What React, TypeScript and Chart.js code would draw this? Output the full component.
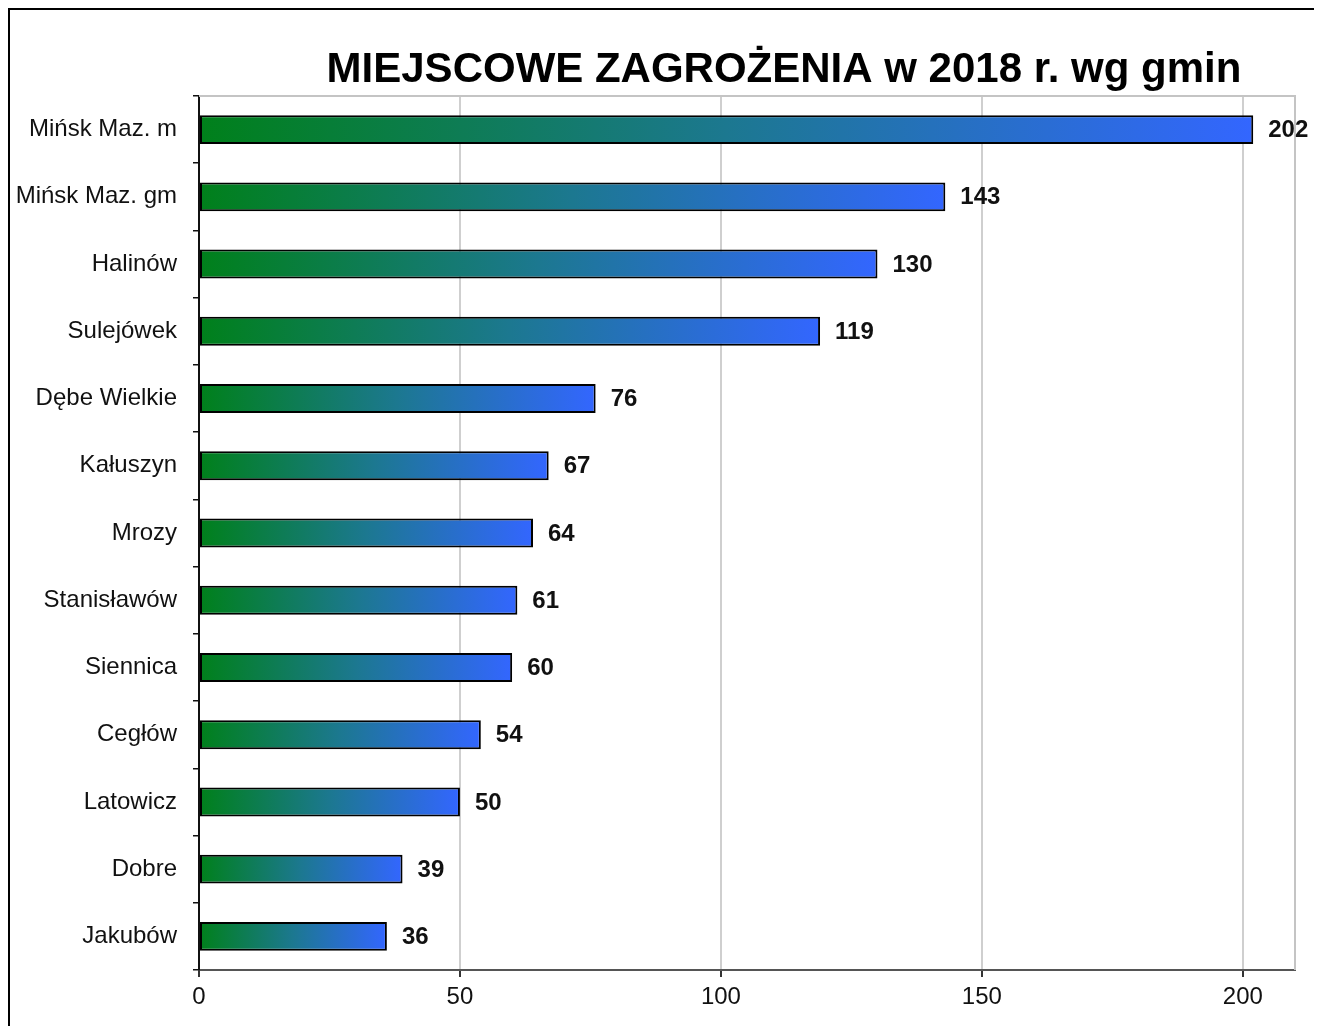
import React, { useEffect, useRef } from "react";
import { Chart, registerables } from "chart.js";

Chart.register(...registerables);

const TITLE = "MIEJSCOWE ZAGROŻENIA w 2018 r. wg gmin";
const categories = [
  "Mińsk Maz. m",
  "Mińsk Maz. gm",
  "Halinów",
  "Sulejówek",
  "Dębe Wielkie",
  "Kałuszyn",
  "Mrozy",
  "Stanisławów",
  "Siennica",
  "Cegłów",
  "Latowicz",
  "Dobre",
  "Jakubów",
];
const values = [202, 143, 130, 119, 76, 67, 64, 61, 60, 54, 50, 39, 36];
const xTicks = [0, 50, 100, 150, 200];
const xMin = 0;
const xMax = 210;

const FONT = "'Liberation Sans', Arial, sans-serif";

const framePlugin = {
  id: "framePlugin",
  beforeDraw(chart: any) {
    const { ctx } = chart;
    ctx.save();
    ctx.fillStyle = "#ffffff";
    ctx.fillRect(0, 0, chart.width, chart.height);
    ctx.restore();
  },
  afterDraw(chart: any) {
    const { ctx, chartArea } = chart;
    ctx.save();
    // outer frame (left and top)
    ctx.strokeStyle = "#000000";
    ctx.lineWidth = 2;
    ctx.beginPath();
    ctx.moveTo(1, chart.height);
    ctx.lineTo(1, 1);
    ctx.lineTo(chart.width, 1);
    ctx.stroke();
    // plot top and right border
    ctx.strokeStyle = "#c4c4c4";
    ctx.lineWidth = 2;
    ctx.beginPath();
    ctx.moveTo(chartArea.left, chartArea.top);
    ctx.lineTo(chartArea.right, chartArea.top);
    ctx.lineTo(chartArea.right, chartArea.bottom);
    ctx.stroke();
    // title
    ctx.fillStyle = "#000000";
    ctx.font = `bold 42px ${FONT}`;
    ctx.textAlign = "center";
    ctx.textBaseline = "alphabetic";
    ctx.fillText(TITLE, chartArea.left + (chartArea.right - chartArea.left) / 2 + 37, 74);
    // value labels
    const meta = chart.getDatasetMeta(0);
    ctx.font = `bold 24px ${FONT}`;
    ctx.textAlign = "left";
    ctx.textBaseline = "middle";
    ctx.fillStyle = "#111111";
    meta.data.forEach((el: any, i: number) => {
      ctx.fillText(String(values[i]), el.x + 15, el.y + 1);
    });
    ctx.restore();
  },
};

export default function App() {
  const ref = useRef<HTMLCanvasElement | null>(null);
  useEffect(() => {
    if (!ref.current) return;
    const chart = new Chart(ref.current, {
      type: "bar",
      data: {
        labels: categories,
        datasets: [
          {
            data: values,
            backgroundColor: (c: any) => {
              const ch = c.chart;
              const xs = ch.scales?.x;
              if (!ch.chartArea || !xs || c.raw == null) return "#3366ff";
              const x0 = xs.getPixelForValue(0);
              const x1 = xs.getPixelForValue(c.raw);
              const g = ch.ctx.createLinearGradient(x0, 0, x1, 0);
              g.addColorStop(0, "#00801a");
              g.addColorStop(0.5, "#1c7890");
              g.addColorStop(1, "#3366ff");
              return g;
            },
            borderColor: "#000000",
            borderWidth: 2,
            borderSkipped: false,
            categoryPercentage: 1,
            barPercentage: 0.43,
          },
        ],
      },
      options: {
        indexAxis: "y",
        animation: false,
        responsive: false,
        maintainAspectRatio: false,
        layout: { padding: { top: 88, right: 27, bottom: 12, left: 0 } },
        plugins: {
          legend: { display: false },
          title: { display: false },
          tooltip: { enabled: false },
        },
        scales: {
          x: {
            min: xMin,
            max: xMax,
            afterBuildTicks: (s: any) => {
              s.ticks = xTicks.map((v) => ({ value: v }));
            },
            ticks: {
              font: { family: FONT, size: 24 },
              color: "#111111",
              padding: 6,
            },
            grid: {
              color: (c: any) => (c.tick && c.tick.value === 0 ? "rgba(0,0,0,0)" : "#cfcfcf"),
              lineWidth: 2,
              tickColor: "#333333",
              tickLength: 7,
            },
            border: { color: "#555555", width: 2 },
            afterFit: (s: any) => {
              s.height = 44;
            },
          },
          y: {
            ticks: {
              font: { family: FONT, size: 24 },
              color: "#111111",
              padding: 16,
            },
            grid: {
              offset: true,
              drawOnChartArea: false,
              tickColor: "#111111",
              tickLength: 6,
              lineWidth: 1.5,
            },
            border: { color: "#111111", width: 2 },
            afterFit: (s: any) => {
              s.width = 191;
            },
          },
        },
      },
      plugins: [framePlugin],
    } as any);
    return () => chart.destroy();
  }, []);
  return (
    <canvas
      ref={ref}
      width={1314}
      height={1018}
      style={{ display: "block", width: 1314, height: 1018 }}
    />
  );
}
